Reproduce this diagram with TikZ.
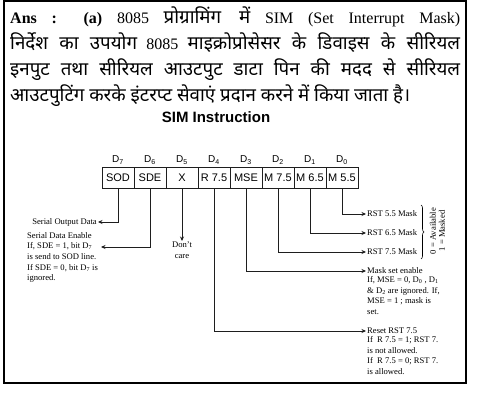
\documentclass[tikz,border=0pt]{standalone}
\usepackage{fontspec}
\setmainfont{Liberation Serif}
\setsansfont{Liberation Sans}
\newfontfamily\hindi[Script=Devanagari,Scale=1.17]{Noto Sans}
\usetikzlibrary{arrows.meta,positioning,decorations.pathreplacing}
\definecolor{linegray}{HTML}{1E1E1E}

\begin{document}
\begin{tikzpicture}[x=1pt,y=-1pt,
  bit/.style={draw=linegray,line width=0.7pt,minimum width=32pt,minimum height=21pt,inner sep=0pt,font=\sffamily\fontsize{11}{12}\selectfont},
  bitlbl/.style={font=\sffamily\fontsize{10}{11}\selectfont,inner sep=1pt},
  note/.style={font=\fontsize{8.6}{10.7}\selectfont,inner sep=1pt,align=left},
  arr/.style={-{Stealth[length=4.5pt,width=4pt]},line width=0.7pt,draw=linegray}
]
\useasboundingbox (0,0) rectangle (490,411);
\draw[line width=1.4pt] (4,1) rectangle (466,383);
\node[anchor=north west,text width=450pt,align=justify,inner sep=0pt,
  font=\fontsize{16}{25.7}\selectfont] (ans) at (10,7)
  {\textbf{Ans : (a)} 8085 {\hindi प्रोग्रामिंग में} SIM (Set Interrupt Mask)\linebreak
   {\hindi निर्देश का उपयोग} 8085 {\hindi माइक्रोप्रोसेसर के डिवाइस के सीरियल}\linebreak
   {\hindi इनपुट तथा सीरियल आउटपुट डाटा पिन की मदद से सीरियल}\linebreak
   {\hindi आउटपुटिंग करके इंटरप्ट सेवाएं प्रदान करने में किया जाता है।}};
\node[font=\sffamily\bfseries\fontsize{15}{18}\selectfont] (title) at (216,117) {SIM Instruction};
\foreach \n/\t/\d [count=\i from 0] in {sod/SOD/7,sde/SDE/6,x/X/5,r75/R 7.5/4,mse/MSE/3,m75/M 7.5/2,m65/M 6.5/1,m55/M 5.5/0} {
  \node[bit] (\n) at (118+32*\i,177.5) {\t};
  \node[bitlbl,above=1pt of \n] (lbl\d) {D\textsubscript{\d}};
}
\node[note,anchor=east] (sodtxt) at (98,222) {Serial Output Data};
\node[note,anchor=north west] (sdetxt) at (26,231) {Serial Data Enable\\If, SDE = 1, bit D\textsubscript{7}\\is send to SOD line.\\If SDE = 0, bit D\textsubscript{7} is\\ignored.};
\coordinate (sdein) at (101,247);
\node[note,anchor=north,align=center] (dc) at (182,241) {Don't\\care};
\node[note,anchor=west] (rst55) at (366,214) {RST 5.5 Mask};
\node[note,anchor=west] (rst65) at (366,233) {RST 6.5 Mask};
\node[note,anchor=west] (rst75) at (366,252) {RST 7.5 Mask};
\node[note,anchor=west] (msehead) at (366,271) {Mask set enable};
\node[note,anchor=north west] (msebody) at (msehead.south west) {If, MSE = 0, D\textsubscript{0} , D\textsubscript{1}\\\& D\textsubscript{2} are ignored. If,\\MSE = 1 ; mask is\\set.};
\node[note,anchor=west] (rsthead) at (366,331) {Reset RST 7.5};
\node[note,anchor=north west] (rstbody) at (rsthead.south west) {If\ \ R 7.5 = 1; RST 7.\\is not allowed.\\If\ \ R 7.5 = 0; RST 7.\\is allowed.};
\draw[decorate,decoration={brace,amplitude=3pt},line width=0.6pt] (421,205) -- (421,259);
\node[note,rotate=90] (avail) at (433,231) {0 = Available};
\node[note,rotate=90] (masked) at (442,231) {1 = Masked};
\draw[arr] (sod.south) |- (sodtxt.east);
\draw[arr] (sde.south) |- (sdein);
\draw[arr] (x.south) -- (dc.north);
\draw[arr] (r75.south) |- (rsthead.west);
\draw[arr] (mse.south) |- (msehead.west);
\draw[arr] (m75.south) |- (rst75.west);
\draw[arr] (m65.south) |- (rst65.west);
\draw[arr] (m55.south) |- (rst55.west);
\end{tikzpicture}
\end{document}
